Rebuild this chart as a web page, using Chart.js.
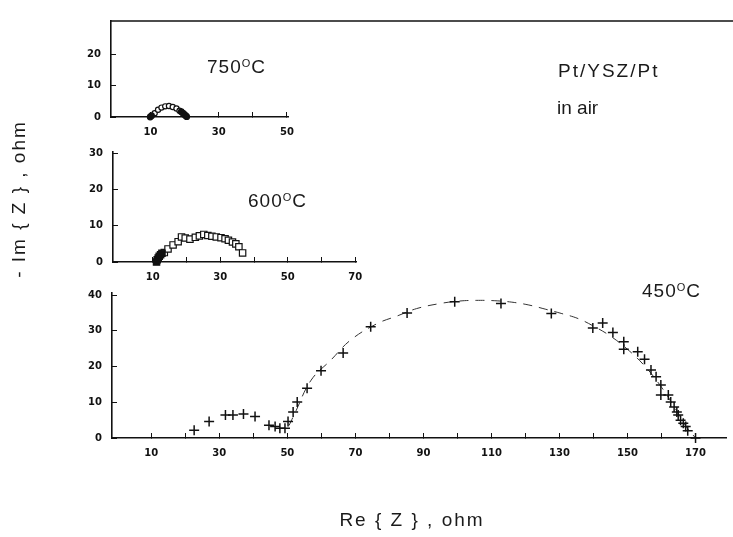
<!DOCTYPE html>
<html lang="en">
<head>
<meta charset="UTF-8">
<title>Pt/YSZ/Pt impedance</title>
<script src="https://cdn.jsdelivr.net/npm/chart.js"></script>
<style>
  body { margin: 0; background: #fff; }
  #wrap { position: relative; width: 733px; height: 537px; }
  #wrap canvas { position: absolute; left: 0; top: 0; }
</style>
</head>
<body>
<div id="wrap">
  <canvas id="c750" width="733" height="537"></canvas>
  <canvas id="c600" width="733" height="537"></canvas>
  <canvas id="c450" width="733" height="537"></canvas>
</div>
<script>
// 750 C : open circles on the arc, filled dots at both ends
const re750open = [11.2, 12.2, 13.2, 14.3, 15.4, 16.5, 17.6, 18.5];
const im750open = [1.2, 2.3, 3.0, 3.4, 3.5, 3.2, 2.7, 2.0];
const re750fill = [9.9, 10.3, 19.0, 19.5, 19.9, 20.3, 20.6];
const im750fill = [0, 0.4, 1.7, 1.2, 0.8, 0.4, 0.1];

// 600 C : open squares, filled squares at the left foot
const re600open = [13.4, 14.5, 16.0, 17.5, 18.5, 19.6, 21.0, 22.6, 23.8, 25.1, 26.3, 27.5, 28.8, 30.2, 31.4, 32.4, 33.6, 34.6, 35.5, 36.6];
const im600open = [2.6, 3.6, 4.7, 5.6, 6.9, 6.6, 6.3, 6.8, 7.2, 7.6, 7.3, 7.1, 6.9, 6.7, 6.4, 6.0, 5.5, 5.0, 4.2, 2.5];
const re600fill = [11.1, 11.3, 11.6, 11.9, 12.3, 12.7];
const im600fill = [0, 0.6, 1.1, 1.6, 2.0, 2.4];

// 450 C : crosses + dashed fit
const re450 = [22.6, 27.0, 31.8, 34.0, 37.1, 40.5, 44.6, 46.4, 47.8, 49.3, 50.2, 51.7, 52.9, 55.8, 59.9, 66.4, 74.5, 85.2, 99.2, 112.8, 127.6, 139.8, 142.7, 145.7, 148.9, 148.9, 153.0, 155.0, 156.9, 158.4, 159.8, 159.8, 162.0, 162.7, 163.7, 164.5, 164.9, 165.6, 166.4, 167.1, 167.7, 170.0];
const im450 = [2.2, 4.6, 6.4, 6.4, 6.7, 6.0, 3.6, 3.2, 2.7, 2.7, 4.6, 7.3, 10.1, 13.9, 18.8, 23.8, 31.1, 35.0, 38.1, 37.6, 34.8, 30.8, 32.2, 29.5, 26.9, 24.8, 24.1, 22.0, 19.0, 17.1, 14.8, 12.0, 12.0, 10.1, 8.7, 7.3, 6.4, 5.0, 4.1, 3.2, 2.0, 0];
const reFit = [50.5, 52.2, 57.0, 62.8, 68.6, 76.4, 82.2, 88.0, 94.8, 100.5, 105.5, 111, 116, 121, 126, 130.7, 135.5, 140, 145, 150, 155, 160, 164, 167, 170];
const imFit = [3.5, 6.9, 16.2, 21.8, 27.4, 32.0, 34.1, 36.2, 37.6, 38.3, 38.5, 38.4, 38.0, 37.2, 36.0, 34.8, 33.4, 31.3, 28.5, 24.8, 20.2, 14.2, 8.3, 3.5, 0];

// axis ticks and labels
const ticks750X = [10, 20, 30, 40, 50];
const labels750X = [10, 30, 50];
const ticks750Y = [0, 10, 20];
const ticks600X = [10, 20, 30, 40, 50, 60, 70];
const labels600X = [10, 30, 50, 70];
const ticks600Y = [0, 10, 20, 30];
const ticks450X = [10, 20, 30, 40, 50, 60, 70, 80, 90, 100, 110, 120, 130, 140, 150, 160, 170];
const labels450X = [10, 30, 50, 70, 90, 110, 130, 150, 170];
const ticks450Y = [0, 10, 20, 30, 40];

const INK = '#111';
const tickFont = { family: 'DejaVu Sans', weight: 'bold', size: 10 };

function zip(xs, ys) {
    return xs.map((x, i) => ({ x: x, y: ys[i] }));
}

function axes(xRange, yRange, xTicks, xLabels, yTicks) {
    const grid = { display: true, drawOnChartArea: false, drawTicks: true, tickLength: -5, color: INK, lineWidth: 1 };
    const border = { display: true, color: INK, width: 1.6 };
    return {
        x: {
            type: 'linear', min: xRange[0], max: xRange[1],
            afterFit: s => { s.height = 25; },
            afterBuildTicks: s => { s.ticks = xTicks.map(v => ({ value: v })); },
            grid: grid, border: border,
            ticks: { color: INK, font: tickFont, padding: 14, maxRotation: 0, autoSkip: false,
                callback: v => xLabels.includes(v) ? String(v) : '' }
        },
        y: {
            type: 'linear', min: yRange[0], max: yRange[1],
            afterFit: s => { s.width = 40; },
            afterBuildTicks: s => { s.ticks = yTicks.map(v => ({ value: v })); },
            grid: grid, border: border,
            ticks: { color: INK, font: tickFont, padding: 15, autoSkip: false }
        }
    };
}

function baseOptions(padding, scales) {
    return {
        responsive: false,
        animation: false,
        layout: { padding: padding },
        plugins: { legend: { display: false }, tooltip: { enabled: false } },
        scales: scales
    };
}

// top frame line over the first panel
const frameLine = {
    id: 'frameLine',
    afterDraw(chart) {
        const ctx = chart.ctx, a = chart.chartArea;
        ctx.save();
        ctx.strokeStyle = INK;
        ctx.lineWidth = 1.5;
        ctx.beginPath();
        ctx.moveTo(a.left, a.top);
        ctx.lineTo(chart.width, a.top);
        ctx.stroke();
        ctx.restore();
    }
};

function tempLabel(ctx, num, x, y) {
    ctx.font = '19px "Liberation Sans"';
    ctx.letterSpacing = '1px';
    ctx.fillText(num, x, y);
    let w = ctx.measureText(num).width;
    ctx.font = '11px "Liberation Sans"';
    ctx.letterSpacing = '0px';
    ctx.fillText('O', x + w, y - 6);
    w += ctx.measureText('O').width + 1;
    ctx.font = '19px "Liberation Sans"';
    ctx.fillText('C', x + w, y);
}

// text annotations and axis titles
const notes = {
    id: 'notes',
    afterDraw(chart) {
        const ctx = chart.ctx;
        ctx.save();
        ctx.fillStyle = '#1a1a1a';
        ctx.textBaseline = 'alphabetic';
        ctx.textAlign = 'left';
        tempLabel(ctx, '750', 207, 73);
        tempLabel(ctx, '600', 248, 207);
        tempLabel(ctx, '450', 642, 297);
        ctx.font = '19px "Liberation Sans"';
        ctx.letterSpacing = '2px';
        ctx.fillText('Pt/YSZ/Pt', 558, 77);
        ctx.letterSpacing = '0px';
        ctx.fillText('in air', 557, 114);
        ctx.letterSpacing = '2px';
        ctx.textAlign = 'center';
        ctx.fillText('Re { Z } , ohm', 412, 526);
        ctx.translate(20, 199);
        ctx.rotate(-Math.PI / 2);
        ctx.textBaseline = 'middle';
        ctx.fillText('- Im { Z } , ohm', 0, 0);
        ctx.restore();
    }
};

new Chart(document.getElementById('c750'), {
    type: 'scatter',
    data: {
        datasets: [
            { data: zip(re750fill, im750fill), pointStyle: 'circle', pointRadius: 2.8, borderWidth: 1.2,
              borderColor: INK, backgroundColor: INK, clip: false },
            { data: zip(re750open, im750open), pointStyle: 'circle', pointRadius: 2.6, borderWidth: 1.2,
              borderColor: INK, backgroundColor: '#fff', clip: false }
        ]
    },
    options: baseOptions({ left: 71, right: 445, top: 10, bottom: 395 },
        axes([-1.6, 50.3], [0, 30.6], ticks750X, labels750X, ticks750Y)),
    plugins: [frameLine]
});

new Chart(document.getElementById('c600'), {
    type: 'scatter',
    data: {
        datasets: [
            { data: zip(re600fill, im600fill), pointStyle: 'rect', pointRadius: 4.5, borderWidth: 1.2,
              borderColor: INK, backgroundColor: INK, clip: false },
            { data: zip(re600open, im600open), pointStyle: 'rect', pointRadius: 4.5, borderWidth: 1.2,
              borderColor: INK, backgroundColor: '#fff', clip: false }
        ]
    },
    options: baseOptions({ left: 73, right: 377, top: 152, bottom: 250 },
        axes([-1.8, 70.2], [0, 30.3], ticks600X, labels600X, ticks600Y))
});

new Chart(document.getElementById('c450'), {
    type: 'scatter',
    data: {
        datasets: [
            { data: zip(re450, im450), pointStyle: 'cross', pointRadius: 5, borderWidth: 1.5,
              borderColor: INK, clip: false },
            { data: zip(reFit, imFit), showLine: true, pointRadius: 0, borderWidth: 1,
              borderColor: '#333', borderDash: [9, 7], tension: 0.4, clip: false }
        ]
    },
    options: baseOptions({ left: 72, right: 0, top: 293, bottom: 74 },
        axes([-1.55, 179.1], [0, 40.56], ticks450X, labels450X, ticks450Y)),
    plugins: [notes]
});
</script>
</body>
</html>
